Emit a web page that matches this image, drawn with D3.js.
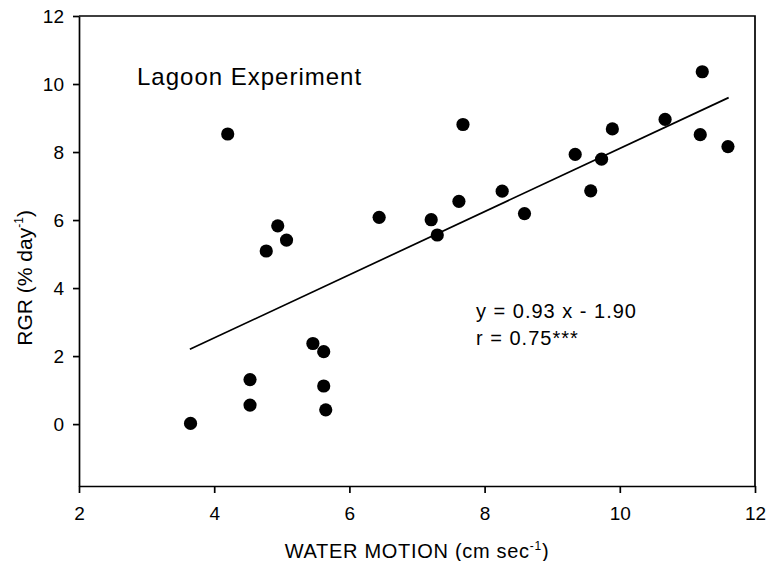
<!DOCTYPE html>
<html>
<head>
<meta charset="utf-8">
<script src="https://cdn.jsdelivr.net/npm/d3@7"></script>
<style>
  body { margin: 0; background: #fff; }
  svg { display: block; font-family: "Liberation Sans", Arial, sans-serif; }
  .axis path, .axis line { stroke: #000; stroke-width: 1.7; }
  .axis text { font-size: 19px; fill: #000; }
</style>
</head>
<body>
<svg id="chart"></svg>
<script>
// water motion (cm/sec) and RGR (% per day)
let waterMotion = [3.65, 4.20, 4.53, 4.53, 4.77, 4.94, 5.07, 5.46, 5.62, 5.62, 5.65,
  6.44, 7.21, 7.30, 7.62, 7.68, 8.26, 8.59, 9.34, 9.57, 9.73, 9.89, 10.67, 11.19, 11.22, 11.60];
let rgr = [0.02, 8.53, 1.31, 0.56, 5.09, 5.83, 5.41, 2.37, 2.13, 1.12, 0.42,
  6.08, 6.01, 5.56, 6.55, 8.81, 6.85, 6.19, 7.93, 6.86, 7.79, 8.68, 8.96, 8.51, 10.36, 8.16];

// fitted line as drawn in the figure
let fitX = [3.64, 11.61];
let fitY = [2.20, 9.60];

let xTicks = [2, 4, 6, 8, 10, 12];
let yTicks = [0, 2, 4, 6, 8, 10, 12];
let xDomain = [2, 12];
let yDomain = [-1.82, 12];

let width = 767;
let height = 561;
let marginLeft = 79, marginRight = 12, marginTop = 16, marginBottom = 75;

let svg = d3.select("#chart")
  .attr("width", width)
  .attr("height", height);

let xAxisLen = width - marginLeft - marginRight;
let yAxisLen = height - marginTop - marginBottom;

let scaleX = d3.scaleLinear().domain(xDomain).range([0, xAxisLen]);
let scaleY = d3.scaleLinear().domain(yDomain).range([yAxisLen, 0]);

let g = svg.append("g")
  .attr("transform", `translate(${marginLeft}, ${marginTop})`);

// frame (top and right)
g.append("path")
  .attr("d", `M0,0H${xAxisLen}V${yAxisLen}`)
  .attr("fill", "none")
  .attr("stroke", "#000")
  .attr("stroke-width", 1.7);

g.append("g")
  .attr("class", "axis")
  .attr("transform", `translate(0, ${yAxisLen})`)
  .call(d3.axisBottom(scaleX).tickValues(xTicks).tickSize(7).tickPadding(14).tickSizeOuter(0));

g.append("g")
  .attr("class", "axis")
  .call(d3.axisLeft(scaleY).tickValues(yTicks).tickSize(6).tickPadding(9).tickSizeOuter(0));

// regression line
g.append("line")
  .attr("x1", scaleX(fitX[0]))
  .attr("y1", scaleY(fitY[0]))
  .attr("x2", scaleX(fitX[1]))
  .attr("y2", scaleY(fitY[1]))
  .attr("stroke", "#000")
  .attr("stroke-width", 1.7);

g.selectAll(".dot")
  .data(waterMotion)
  .enter()
  .append("circle")
  .attr("class", "dot")
  .attr("r", 6.6)
  .attr("cx", d => scaleX(d))
  .attr("cy", (d, i) => scaleY(rgr[i]))
  .attr("fill", "#000");

// labels
svg.append("text")
  .attr("x", 137)
  .attr("y", 85)
  .attr("font-size", 24)
  .attr("letter-spacing", 1)
  .text("Lagoon Experiment");

svg.append("text")
  .attr("x", 476)
  .attr("y", 318)
  .attr("font-size", 20)
  .attr("letter-spacing", 1)
  .text("y = 0.93 x - 1.90");

svg.append("text")
  .attr("x", 476)
  .attr("y", 345)
  .attr("font-size", 20)
  .attr("letter-spacing", 1)
  .text("r = 0.75***");

let xTitle = svg.append("text")
  .attr("x", marginLeft + xAxisLen / 2)
  .attr("y", 558)
  .attr("text-anchor", "middle")
  .attr("font-size", 20)
  .attr("letter-spacing", 0.7);
xTitle.append("tspan").text("WATER MOTION (cm sec");
xTitle.append("tspan").attr("font-size", 12).attr("dy", -8).text("-1");
xTitle.append("tspan").attr("dy", 8).text(")");

let yTitle = svg.append("text")
  .attr("transform", `translate(32, ${marginTop + scaleY(4.3)}) rotate(-90)`)
  .attr("text-anchor", "middle")
  .attr("font-size", 21);
yTitle.append("tspan").text("RGR (% day");
yTitle.append("tspan").attr("font-size", 12).attr("dy", -9).text("-1");
yTitle.append("tspan").attr("dy", 9).text(")");
</script>
</body>
</html>
